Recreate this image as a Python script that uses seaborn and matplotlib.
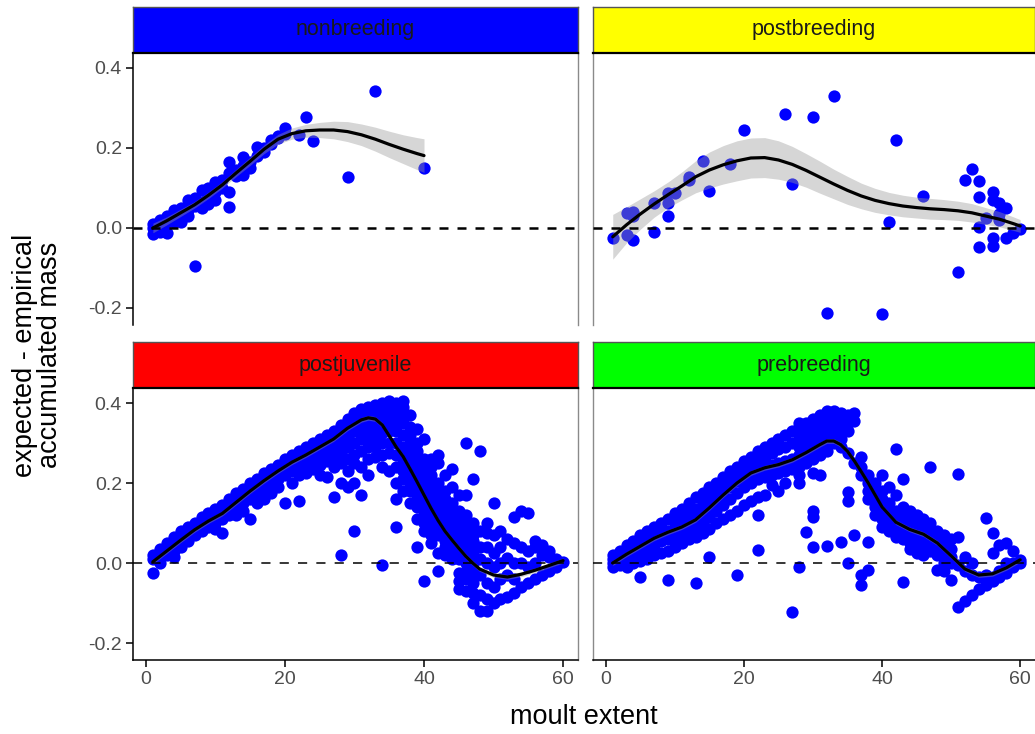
import numpy as np
import pandas as pd
import matplotlib
matplotlib.use("Agg")
import matplotlib.pyplot as plt
import seaborn as sns

# ---------------- data ----------------
panel_names = ["nonbreeding", "postbreeding", "postjuvenile", "prebreeding"]
strip_colors = ["#0000FF", "#FFFF00", "#FF0000", "#00FF00"]
x_ticks = [0, 20, 40, 60]
y_ticks = [-0.2, 0.0, 0.2, 0.4]
y_ticklabels = ["-0.2", "0.0", "0.2", "0.4"]

# nonbreeding points: moult extent -> residuals
nb_ext = [1, 2, 3, 4, 5, 6, 7, 8, 9, 10, 11, 12, 13, 14, 15, 16, 17, 18, 19, 20,
          22, 23, 24, 29, 33, 40]
nb_vals = [[0.0, -0.015, 0.01], [0.01, -0.01, 0.02], [0.015, -0.013, 0.03],
           [0.03, 0.016, 0.045], [0.035, 0.05, 0.016], [0.045, 0.07, 0.03],
           [0.055, 0.075, -0.095], [0.065, 0.095, 0.049], [0.08, 0.1, 0.06],
           [0.09, 0.116, 0.07], [0.1, 0.12], [0.091, 0.137, 0.166, 0.053],
           [0.13, 0.145], [0.1325, 0.178, 0.155], [0.165, 0.149], [0.18, 0.203],
           [0.2, 0.19], [0.22, 0.21], [0.225, 0.23], [0.235, 0.249],
           [0.2325], [0.278], [0.218], [0.128], [0.343], [0.149]]

# postbreeding points
pb_ext = [1, 3, 4, 7, 9, 10, 12, 14, 15, 18, 20, 26, 27, 30, 32, 33, 40, 41, 42, 46,
          51, 52, 53, 54, 55, 56, 57, 58, 59, 60]
pb_vals = [[-0.026], [0.037, -0.0175], [0.041, -0.03, 0.03], [-0.011, 0.062],
           [0.03, 0.062, 0.087], [0.087], [0.128, 0.12], [0.1675], [0.093], [0.159],
           [0.245], [0.285], [0.109], [0.278], [-0.212], [0.33], [-0.216], [0.016],
           [0.22], [0.08], [-0.109], [0.12], [0.147], [0.1175, 0.078, 0.003, -0.047],
           [0.024], [0.091, 0.07, -0.026, -0.045], [0.062, 0.02, 0.035],
           [0.049, -0.026], [-0.013], [-0.003]]

# postjuvenile points
pj_ext = list(range(1, 61))
pj_vals = [
    [0.01, 0.02, -0.025], [0.02, 0.035, 0.0], [0.035, 0.05, 0.02],
    [0.045, 0.065, 0.03, 0.016], [0.06, 0.08, 0.04], [0.07, 0.09, 0.055],
    [0.085, 0.1, 0.07], [0.095, 0.115, 0.08], [0.105, 0.125, 0.09],
    [0.115, 0.135, 0.1, 0.085], [0.125, 0.145, 0.11, 0.075], [0.14, 0.16, 0.12],
    [0.155, 0.175, 0.135, 0.12], [0.165, 0.185, 0.15, 0.13], [0.18, 0.2, 0.16, 0.11],
    [0.19, 0.21, 0.17, 0.15], [0.205, 0.225, 0.185, 0.16], [0.215, 0.235, 0.195, 0.175],
    [0.23, 0.245, 0.21, 0.19], [0.24, 0.26, 0.22, 0.15], [0.25, 0.27, 0.23, 0.2],
    [0.26, 0.28, 0.24, 0.22, 0.155], [0.27, 0.29, 0.25, 0.225],
    [0.28, 0.3, 0.26, 0.235], [0.29, 0.31, 0.27, 0.245, 0.22],
    [0.3, 0.32, 0.28, 0.255, 0.215], [0.31, 0.33, 0.29, 0.265, 0.24, 0.165],
    [0.325, 0.345, 0.3, 0.275, 0.25, 0.2, 0.02],
    [0.34, 0.36, 0.315, 0.29, 0.26, 0.23, 0.19],
    [0.355, 0.375, 0.33, 0.3, 0.27, 0.25, 0.2, 0.08],
    [0.36, 0.385, 0.335, 0.31, 0.28, 0.17, 0.24],
    [0.365, 0.39, 0.34, 0.315, 0.29, 0.26, 0.22],
    [0.37, 0.395, 0.345, 0.32, 0.29, 0.265, 0.3],
    [0.375, 0.4, 0.35, 0.325, 0.3, 0.27, 0.24, -0.005],
    [0.38, 0.405, 0.355, 0.33, 0.3, 0.275, 0.23],
    [0.385, 0.4, 0.36, 0.33, 0.3, 0.27, 0.2, 0.09, 0.35, 0.24, 0.16],
    [0.39, 0.405, 0.35, 0.32, 0.29, 0.25, 0.21, 0.37, 0.27, 0.23, 0.18],
    [0.37, 0.34, 0.3, 0.26, 0.22, 0.18, 0.32, 0.28, 0.24, 0.2, 0.15],
    [0.335, 0.3, 0.26, 0.22, 0.18, 0.14, 0.04, 0.28, 0.24, 0.2, 0.16, 0.11],
    [0.31, 0.26, 0.22, 0.18, 0.14, 0.1, -0.045, 0.24, 0.2, 0.16, 0.12, 0.08],
    [0.26, 0.22, 0.18, 0.14, 0.1, 0.07, 0.24, 0.2, 0.16, 0.12, 0.085, 0.05],
    [0.27, 0.25, 0.2, 0.16, 0.12, 0.09, 0.025, -0.02, 0.18, 0.14, 0.105, 0.07],
    [0.22, 0.18, 0.14, 0.1, 0.07, 0.04, 0.16, 0.12, 0.085, 0.055, 0.02],
    [0.235, 0.19, 0.15, 0.11, 0.08, 0.05, 0.01, 0.13, 0.095, 0.065, 0.03],
    [0.17, 0.13, 0.09, 0.06, 0.03, -0.025, -0.065, 0.11, 0.075, 0.045, 0.01, -0.045],
    [0.3, 0.17, 0.12, 0.09, 0.06, 0.02, -0.04, -0.07, 0.1, 0.075, 0.04, 0.0, -0.02],
    [0.21, 0.1, 0.07, 0.04, 0.0, -0.05, -0.1, 0.085, 0.055, 0.02, -0.025, -0.075],
    [0.28, 0.08, 0.04, 0.01, -0.03, -0.08, -0.12],
    [0.1, 0.075, 0.04, 0.0, -0.05, -0.09, -0.12],
    [0.15, 0.07, 0.025, -0.01, -0.06, -0.1],
    [0.08, 0.04, 0.0, -0.04, -0.09],
    [0.06, 0.012, -0.03, -0.085],
    [0.115, 0.05, 0.0, -0.04, -0.075],
    [0.13, 0.04, 0.0, -0.06],
    [0.125, 0.03, -0.01, -0.05],
    [0.055, 0.04, 0.0, -0.04],
    [0.045, 0.02, -0.03],
    [0.03, 0.015, -0.02],
    [0.01, -0.01],
    [0.003]]

# prebreeding points
pr_ext = list(range(1, 61))
pr_vals = [
    [0.0, 0.02, -0.01, 0.01], [0.01, 0.03, -0.005, 0.015], [0.025, 0.045, 0.005, -0.01],
    [0.035, 0.055, 0.015, 0.0], [0.045, 0.07, 0.025, 0.005, -0.034],
    [0.055, 0.08, 0.035, 0.01], [0.065, 0.09, 0.045, 0.02], [0.075, 0.1, 0.055, 0.025],
    [0.08, 0.11, 0.06, 0.03, -0.0425], [0.09, 0.125, 0.105, 0.065, 0.04],
    [0.095, 0.135, 0.115, 0.07, 0.05], [0.1, 0.15, 0.125, 0.08, 0.06],
    [0.11, 0.165, 0.135, 0.09, 0.065, -0.05], [0.125, 0.175, 0.15, 0.1, 0.075],
    [0.14, 0.19, 0.165, 0.115, 0.085, 0.016], [0.155, 0.2, 0.18, 0.13, 0.1],
    [0.17, 0.215, 0.19, 0.145, 0.11], [0.19, 0.23, 0.21, 0.16, 0.12],
    [0.205, 0.24, 0.22, 0.175, 0.13, -0.03], [0.215, 0.255, 0.235, 0.19, 0.145],
    [0.225, 0.265, 0.245, 0.2, 0.155], [0.235, 0.28, 0.26, 0.21, 0.165, 0.12, 0.0325],
    [0.24, 0.29, 0.265, 0.215, 0.17], [0.245, 0.3, 0.275, 0.22, 0.195],
    [0.25, 0.31, 0.285, 0.225, 0.18], [0.255, 0.32, 0.29, 0.23, 0.2],
    [0.26, 0.33, 0.3, 0.235, -0.122],
    [0.27, 0.34, 0.31, 0.24, 0.22, 0.2, -0.009, 0.35, 0.325, 0.29, 0.255],
    [0.28, 0.35, 0.32, 0.25, 0.078, 0.335, 0.3, 0.265],
    [0.29, 0.36, 0.33, 0.26, 0.224, 0.13, 0.116, 0.041, 0.345, 0.31, 0.275],
    [0.3, 0.37, 0.345, 0.27, 0.22, 0.36, 0.32, 0.285],
    [0.305, 0.38, 0.355, 0.33, 0.28, 0.0425, 0.37, 0.34, 0.32],
    [0.3, 0.38, 0.36, 0.33, 0.37, 0.345, 0.315],
    [0.29, 0.375, 0.35, 0.33, 0.053, 0.36, 0.34, 0.31],
    [0.275, 0.37, 0.35, 0.33, 0.178, 0.156, 0.0], [0.25, 0.375, 0.355, 0.07],
    [0.22, 0.266, 0.24, -0.03, -0.055], [0.2, 0.18, 0.053, -0.0175, 0.22, 0.16],
    [0.165, 0.2, 0.14, 0.18, 0.15, 0.12], [0.135, 0.22, 0.18, 0.11, 0.16, 0.12, 0.09],
    [0.12, 0.19, 0.15, 0.095, 0.135, 0.105, 0.08],
    [0.1, 0.284, 0.17, 0.13, 0.08, 0.12, 0.09, 0.065],
    [0.09, 0.209, 0.14, 0.06, -0.047, 0.12, 0.1, 0.075],
    [0.085, 0.13, 0.11, 0.05, 0.1, 0.07, 0.035],
    [0.075, 0.12, 0.1, 0.04, 0.09, 0.06, 0.025],
    [0.07, 0.11, 0.09, 0.035, 0.08, 0.055, 0.02],
    [0.06, 0.239, 0.1, 0.03, 0.08, 0.045], [0.045, 0.08, 0.02, -0.0175, 0.06, 0.03],
    [0.03, 0.07, 0.0, 0.05, 0.015, -0.02], [0.015, 0.06, -0.0425, 0.035, 0.0],
    [-0.005, 0.222, 0.066, -0.109], [-0.02, 0.016, -0.095],
    [-0.03, 0.0, -0.08], [-0.035, -0.065], [0.113, -0.03, -0.055],
    [0.074, 0.024, -0.034, -0.045], [0.045, -0.02, -0.035],
    [0.049, 0.0, -0.01, -0.025], [0.03, 0.0, -0.01], [0.008, 0.0]]

# smoothed fits: x, fitted value, half-width of ribbon
nb_sx = [1, 3, 5, 7, 9, 11, 13, 15, 17, 19, 21, 23, 25, 27, 29, 31, 33, 35, 37, 39, 40]
nb_sy = [0.0, 0.018, 0.038, 0.058, 0.082, 0.108, 0.138, 0.167, 0.197, 0.222, 0.236,
         0.243, 0.245, 0.245, 0.241, 0.233, 0.222, 0.209, 0.197, 0.186, 0.181]
nb_hw = [0.012, 0.01, 0.009, 0.008, 0.008, 0.008, 0.009, 0.01, 0.011, 0.012, 0.014,
         0.016, 0.019, 0.022, 0.025, 0.027, 0.03, 0.033, 0.036, 0.04, 0.042]

pb_sx = [1, 3, 5, 7, 9, 11, 13, 15, 17, 19, 21, 23, 25, 27, 29, 31, 33, 35, 37, 39,
         41, 43, 45, 47, 49, 51, 53, 55, 57, 59, 60]
pb_sy = [-0.022, 0.008, 0.035, 0.06, 0.083, 0.105, 0.128, 0.145, 0.158, 0.168, 0.175,
         0.176, 0.17, 0.159, 0.144, 0.127, 0.11, 0.094, 0.08, 0.069, 0.061, 0.055,
         0.051, 0.048, 0.046, 0.043, 0.038, 0.03, 0.022, 0.011, 0.005]
pb_hw = [0.056, 0.045, 0.038, 0.033, 0.032, 0.035, 0.04, 0.045, 0.048, 0.05, 0.05,
         0.05, 0.048, 0.045, 0.042, 0.04, 0.037, 0.035, 0.032, 0.03, 0.028, 0.027,
         0.026, 0.026, 0.025, 0.024, 0.023, 0.021, 0.019, 0.017, 0.016]

pj_sx = [1, 3, 5, 7, 9, 11, 13, 15, 17, 19, 21, 23, 25, 27, 29, 31, 32, 33, 34, 35,
         36, 37, 38, 39, 40, 41, 42, 43, 44, 45, 46, 47, 48, 50, 52, 54, 56, 58, 60]
pj_sy = [0.003, 0.03, 0.057, 0.083, 0.105, 0.124, 0.152, 0.18, 0.206, 0.23, 0.252,
         0.27, 0.29, 0.31, 0.337, 0.358, 0.363, 0.36, 0.345, 0.318, 0.29, 0.266,
         0.235, 0.203, 0.17, 0.137, 0.107, 0.08, 0.058, 0.037, 0.017, 0.0, -0.015,
         -0.03, -0.035, -0.028, -0.018, -0.006, 0.006]

pr_sx = [1, 3, 5, 7, 9, 11, 13, 15, 17, 19, 21, 23, 25, 27, 29, 31, 32, 33, 34, 35,
         36, 37, 38, 39, 40, 42, 44, 46, 48, 50, 52, 54, 56, 58, 60]
pr_sy = [0.0, 0.022, 0.042, 0.062, 0.077, 0.09, 0.108, 0.138, 0.17, 0.2, 0.225,
         0.238, 0.246, 0.258, 0.276, 0.296, 0.305, 0.305, 0.296, 0.279, 0.255, 0.228,
         0.2, 0.17, 0.14, 0.102, 0.084, 0.072, 0.05, 0.018, -0.015, -0.03, -0.027,
         -0.012, 0.008]

# ---------------- drawing ----------------
sns.set_theme(style="white")
plt.rcParams['font.family'] = ['Liberation Sans', 'DejaVu Sans']

W, H = 1035, 734
fig = plt.figure(figsize=(W / 100, H / 100), dpi=100)


def fx(px):
    return px / W


def fy(py):
    return 1 - py / H


col_x = [(133, 578), (593, 1035)]
row_y = [(7, 53, 325), (342, 388, 660)]

points = [(nb_ext, nb_vals), (pb_ext, pb_vals), (pj_ext, pj_vals), (pr_ext, pr_vals)]
fits = [(nb_sx, nb_sy, nb_hw), (pb_sx, pb_sy, pb_hw),
        (pj_sx, pj_sy, [0.006] * len(pj_sx)), (pr_sx, pr_sy, [0.006] * len(pr_sx))]

TICK_COL = "#4d4d4d"

for i, name in enumerate(panel_names):
    r, c = divmod(i, 2)
    x0, x1 = col_x[c]
    s0, s1, p1 = row_y[r]
    ax = fig.add_axes([fx(x0), fy(p1), fx(x1 - x0), (p1 - s1) / H])
    sax = fig.add_axes([fx(x0), fy(s1), fx(x1 - x0), (s1 - s0) / H])

    ext, vals = points[i]
    df = pd.DataFrame({
        "moult extent": np.repeat(ext, [len(v) for v in vals]),
        "diff": np.concatenate(vals),
    })
    sns.scatterplot(data=df, x="moult extent", y="diff", ax=ax, color="#0000FF",
                    s=78, linewidth=0, legend=False, zorder=2)

    ax.axhline(0, color="black", zorder=3.5,
               lw=1.8 if r == 0 else 1.1,
               dashes=(3.6, 3.6) if r == 0 else (6, 6))

    sx, sy, hw = fits[i]
    sx = np.array(sx); sy = np.array(sy); hw = np.array(hw)
    ax.fill_between(sx, sy - hw, sy + hw, color="#999999", alpha=0.4, lw=0, zorder=3)
    sns.lineplot(x=sx, y=sy, ax=ax, color="black", lw=2.3, estimator=None,
                 sort=False, zorder=4)

    ax.set_xlim(-1.86, 62.15)
    ax.set_ylim(-0.2425, 0.4375)
    ax.set_xlabel("")
    ax.set_ylabel("")
    ax.set_facecolor("white")
    for sp in ax.spines.values():
        sp.set_visible(False)

    if c == 0:
        ax.spines["left"].set_visible(True)
        ax.spines["left"].set_color("black")
        ax.spines["left"].set_linewidth(1.1)
        ax.spines["right"].set_visible(True)
        ax.spines["right"].set_color("#8a8a8a")
        ax.spines["right"].set_linewidth(1.0)
        ax.set_yticks(y_ticks)
        ax.set_yticklabels(y_ticklabels)
        ax.tick_params(axis="y", left=True, length=5, width=1.1, color="black",
                       labelsize=14, labelcolor=TICK_COL, pad=3)
    else:
        ax.spines["left"].set_visible(True)
        ax.spines["left"].set_color("#8a8a8a")
        ax.spines["left"].set_linewidth(1.0)
        ax.set_yticks(y_ticks)
        ax.tick_params(axis="y", left=False, labelleft=False)

    if r == 1:
        ax.spines["bottom"].set_visible(True)
        ax.spines["bottom"].set_color("black")
        ax.spines["bottom"].set_linewidth(1.1)
        ax.set_xticks(x_ticks)
        ax.set_xticklabels([str(t) for t in x_ticks])
        ax.tick_params(axis="x", bottom=True, length=5, width=1.1, color="black",
                       labelsize=14, labelcolor=TICK_COL, pad=3)
    else:
        ax.set_xticks(x_ticks)
        ax.tick_params(axis="x", bottom=False, labelbottom=False)
    ax.grid(False)

    # strip
    sax.set_facecolor(strip_colors[i])
    sax.set_xticks([]); sax.set_yticks([])
    for k, sp in sax.spines.items():
        sp.set_visible(True)
        sp.set_color("#555555" if k != "bottom" else "black")
        sp.set_linewidth(1.0 if k != "bottom" else 1.6)
    sax.text(0.5, 0.5, name, transform=sax.transAxes, ha="center", va="center",
             fontsize=15.5, color="#1a1a1a")

fig.text(fx((133 + 1035) / 2), fy(717), "moult extent", ha="center", va="center",
         fontsize=19.5, color="black")
fig.text(fx(38), fy(355), "expected - empirical\naccumulated mass", ha="center",
         va="center", rotation=90, fontsize=19.5, color="black", linespacing=0.95)

fig.savefig("out.png", dpi=100, facecolor="white")
